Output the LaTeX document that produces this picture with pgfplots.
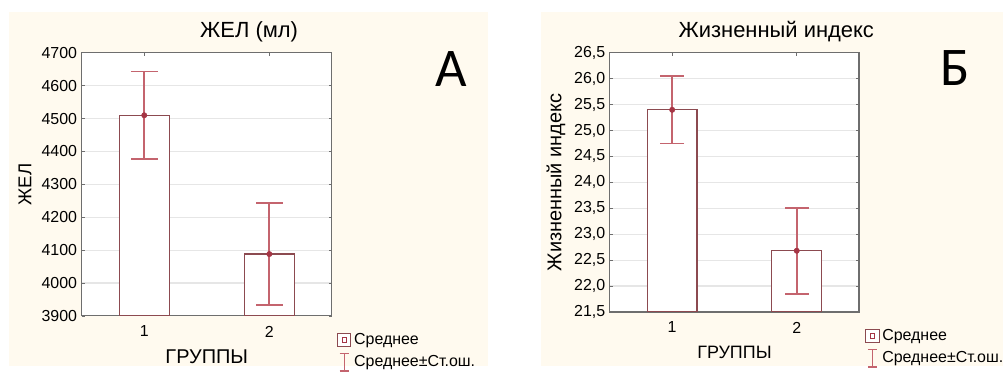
\documentclass[border=0pt]{standalone}
\usepackage{pgfplots}
\pgfplotsset{compat=1.18}
\usepackage{fontspec}
\setmainfont{Liberation Sans}
\newfontfamily\calib{Carlito}
\definecolor{cream}{HTML}{FFFAEF}
\definecolor{barc}{HTML}{8C4A50}
\definecolor{errc}{HTML}{C4646E}
\definecolor{markc}{HTML}{A53545}
\definecolor{framec}{HTML}{6E6E6E}
\definecolor{gridc}{HTML}{E6E6E6}
\pgfplotsset{
  statstyle/.style={
    scale only axis,
    anchor=south west,
    xmin=0.5, xmax=2.5,
    xtick={1,2},
    tick align=inside,
    tick pos=both,
    major tick length=2.5pt,
    tick style={color=framec, line width=0.6pt},
    axis line style={color=framec, line width=0.9pt},
    ymajorgrids,
    grid style={color=gridc, line width=0.8pt},
    axis background/.style={fill=white},
    /pgf/number format/assume math mode=true,
    ticklabel style={font=\fontsize{12}{14}\selectfont},
    xticklabel style={yshift=-4pt},
    legend style={draw=none, fill=none, font=\fontsize{12}{14}\selectfont,
      cells={anchor=west}, row sep=3pt, inner sep=0pt},
    legend cell align=left,
  },
  barplot/.style={
    ybar, bar width=0.4, draw=barc, fill=white, line width=0.9pt,
    legend image code/.code={
      \draw[draw=barc, fill=white, line width=0.8pt] (0pt,-5pt) rectangle (10pt,5pt);
      \draw[draw=markc, line width=0.6pt] (3.2pt,-1.8pt) rectangle (6.8pt,1.8pt);
    },
  },
  errplot/.style={
    only marks, mark=*, mark size=2pt,
    mark options={fill=markc, draw=markc},
    error bars/y dir=both, error bars/y explicit,
    error bars/error bar style={color=errc, line width=1.35pt},
    error bars/error mark options={rotate=90, color=errc, line width=1.35pt, mark size=#1},
  },
  errlegend/.style={
    legend image code/.code={
      \draw[color=errc, line width=0.9pt, solid] (5pt,-6.5pt) -- (5pt,6.5pt)
        (1.5pt,-6.5pt) -- (8.5pt,-6.5pt) (1.5pt,6.5pt) -- (8.5pt,6.5pt);
    },
  },
}
\begin{document}
\begin{tikzpicture}
\path[fill=white] (0pt,0pt) rectangle (754.5pt,275.25pt);
\fill[cream] (6.75pt,0pt) rectangle (367.5pt,266.25pt);
\fill[cream] (407.25pt,0pt) rectangle (754.5pt,266.25pt);

% Panel A
\begin{axis}[statstyle,
  at={(61.5pt,37.5pt)}, width=188.25pt, height=198pt,
  ymin=3900, ymax=4700, ytick={3900,4000,...,4700},
  yticklabel style={/pgf/number format/.cd, fixed, 1000 sep={}},
  xlabel={ГРУППЫ}, ylabel={ЖЕЛ},
  xlabel style={at={(axis description cs:0.5,-0.155)}, anchor=center, font=\fontsize{15}{17}\selectfont},
  ylabel style={at={(axis description cs:-0.227,0.5)}, anchor=center, font=\fontsize{14}{16}\selectfont},
  legend style={at={(axis description cs:1.02,-0.055)}, anchor=north west},
]
\addplot[barplot] coordinates {(1,4510) (2,4088)};
\addlegendentry{Среднее}
\addplot[errlegend, errplot=10pt] coordinates {(1,4510) +- (0,133) (2,4088) +- (0,155)};
\addlegendentry{Среднее±Ст.ош.}
\end{axis}

% Panel B
\begin{axis}[statstyle,
  at={(459pt,40.5pt)}, width=187.5pt, height=195pt,
  ymin=21.5, ymax=26.5, ytick={21.5,22,...,26.5},
  yticklabel style={/pgf/number format/.cd, fixed, fixed zerofill, precision=1, use comma},
  xlabel={ГРУППЫ}, ylabel={Жизненный индекс},
  xlabel style={at={(axis description cs:0.5,-0.156)}, anchor=center, font=\fontsize{13.5}{16}\selectfont},
  ylabel style={at={(axis description cs:-0.216,0.5)}, anchor=center, font=\fontsize{15}{17}\selectfont},
  legend style={at={(axis description cs:1.024,-0.056)}, anchor=north west},
]
\addplot[barplot] coordinates {(1,25.4) (2,22.68)};
\addlegendentry{Среднее}
\addplot[errlegend, errplot=9pt] coordinates {(1,25.4) +- (0,0.65) (2,22.68) +- (0,0.83)};
\addlegendentry{Среднее±Ст.ош.}
\end{axis}

\node[font=\fontsize{16.5}{19}\selectfont] at (187.5pt,251.25pt) {ЖЕЛ (мл)};
\node[font=\fontsize{16.5}{19}\selectfont] at (584.25pt,251.25pt) {Жизненный индекс};
\node[font=\calib\fontsize{41}{45}\selectfont] at (339.75pt,223.5pt) {А};
\node[font=\calib\fontsize{41}{45}\selectfont] at (718.5pt,224.25pt) {Б};
\end{tikzpicture}
\end{document}
